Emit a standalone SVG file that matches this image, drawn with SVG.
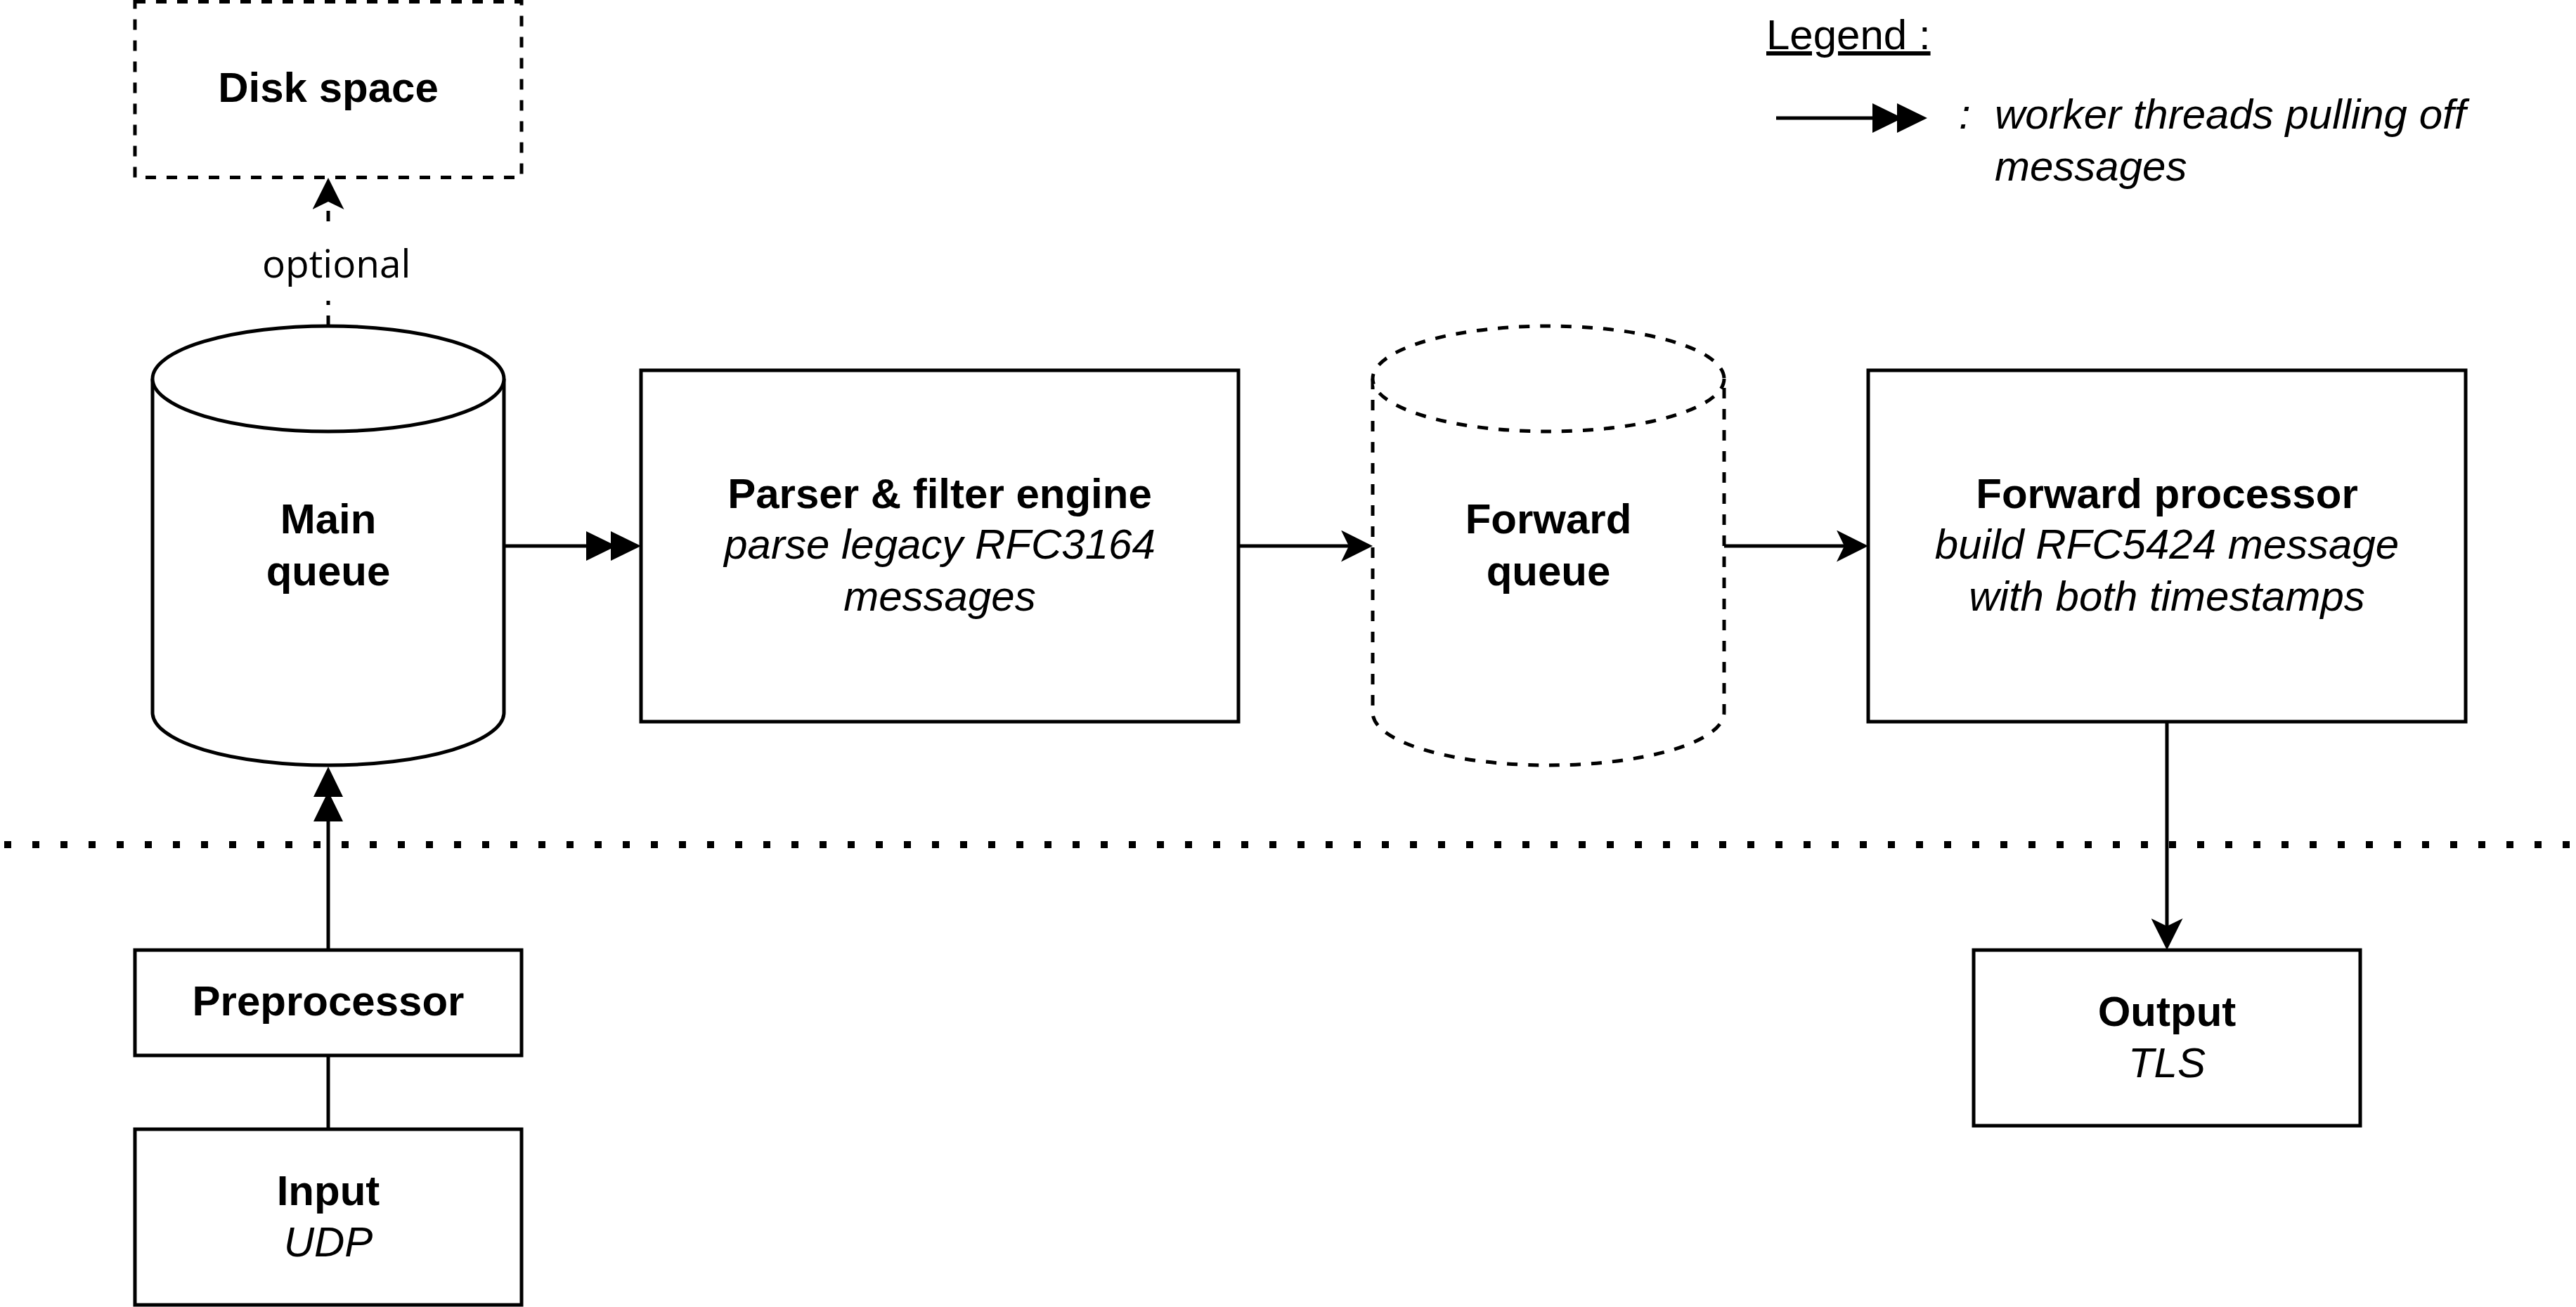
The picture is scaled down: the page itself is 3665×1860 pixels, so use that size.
<svg xmlns="http://www.w3.org/2000/svg" width="3665" height="1860" viewBox="0 0 3665 1860">
<style>
.box{fill:#fff;stroke:#000;stroke-width:5}
.dash{stroke-dasharray:15 15}
.t{font-family:"Liberation Sans",Arial,Helvetica,sans-serif;font-size:60px;fill:#000;text-anchor:middle}
.b{font-weight:bold}
.i{font-style:italic}
.lbl{font-family:"Open Sans","Noto Sans",sans-serif;font-size:55px;fill:#000}
.ln{fill:none;stroke:#000;stroke-width:5}
</style>
<defs>
<marker id="dbl" viewBox="0 0 78 44" refX="0" refY="22" markerWidth="78" markerHeight="44" markerUnits="userSpaceOnUse" orient="auto">
<path d="M0,1 L43,22 L0,43 Z M35,1 L78,22 L35,43 Z" fill="#000"/>
</marker>
<marker id="cls" viewBox="0 0 45 45" refX="11" refY="22.5" markerWidth="45" markerHeight="45" markerUnits="userSpaceOnUse" orient="auto">
<path d="M45,22.5 L0,0 L11,22.5 L0,45 Z" fill="#000"/>
</marker>
</defs>
<rect width="3665" height="1860" fill="#fff"/>

<g id="separator">
<path d="M0,1202 H3665" fill="none" stroke="#000" stroke-width="10" stroke-dasharray="10 30" stroke-dashoffset="34"/>
</g>

<g id="connectors">
<path class="ln" d="M717,777 H834" marker-end="url(#dbl)"/>
<path class="ln" d="M1762,777 H1919" marker-end="url(#cls)"/>
<path class="ln" d="M2453,777 H2624" marker-end="url(#cls)"/>
<path class="ln" d="M3083,1027 V1318" marker-end="url(#cls)"/>
<path class="ln" d="M467,1352 V1169" marker-end="url(#dbl)"/>
<path class="ln" d="M467,1607 V1502"/>
<path class="ln dash" d="M467,464 V428"/>
<path class="ln dash" d="M467,315 V287" marker-end="url(#cls)"/>
<text class="lbl" x="373" y="395">optional</text>
</g>

<g id="disk-space">
<rect class="box dash" x="192" y="2.5" width="550" height="250"/>
<text class="t b" x="467" y="145">Disk space</text>
</g>

<g id="main-queue">
<path class="box" d="M217,539 V1014 A250,75 0 0 0 717,1014 V539"/>
<ellipse class="box" cx="467" cy="539" rx="250" ry="75"/>
<text class="t b" x="467" y="759">Main</text>
<text class="t b" x="467" y="833">queue</text>
</g>

<g id="parser">
<rect class="box" x="912" y="527" width="850" height="500"/>
<text class="t b" x="1337" y="723">Parser &amp; filter engine</text>
<text class="t i" x="1337" y="795">parse legacy RFC3164</text>
<text class="t i" x="1337" y="869">messages</text>
</g>

<g id="forward-queue">
<path class="box dash" d="M1953,539 V1014 A250,75 0 0 0 2453,1014 V539"/>
<ellipse class="box dash" cx="2203" cy="539" rx="250" ry="75"/>
<text class="t b" x="2203" y="759">Forward</text>
<text class="t b" x="2203" y="833">queue</text>
</g>

<g id="forward-processor">
<rect class="box" x="2658" y="527" width="850" height="500"/>
<text class="t b" x="3083" y="723">Forward processor</text>
<text class="t i" x="3083" y="795">build RFC5424 message</text>
<text class="t i" x="3083" y="869">with both timestamps</text>
</g>

<g id="output">
<rect class="box" x="2808" y="1352" width="550" height="250"/>
<text class="t b" x="3083" y="1460">Output</text>
<text class="t i" x="3083" y="1533">TLS</text>
</g>

<g id="preprocessor">
<rect class="box" x="192" y="1352" width="550" height="150"/>
<text class="t b" x="467" y="1445">Preprocessor</text>
</g>

<g id="input">
<rect class="box" x="192" y="1607" width="550" height="250"/>
<text class="t b" x="467" y="1715">Input</text>
<text class="t i" x="467" y="1788">UDP</text>
</g>

<g id="legend">
<text class="t" x="2513" y="70" style="text-anchor:start" text-decoration="underline">Legend :</text>
<path class="ln" d="M2527,168 H2664" marker-end="url(#dbl)"/>
<text class="t i" x="2787" y="183" style="text-anchor:start">:</text>
<text class="t i" x="2838" y="183" style="text-anchor:start">worker threads pulling off</text>
<text class="t i" x="2838" y="257" style="text-anchor:start">messages</text>
</g>
</svg>
